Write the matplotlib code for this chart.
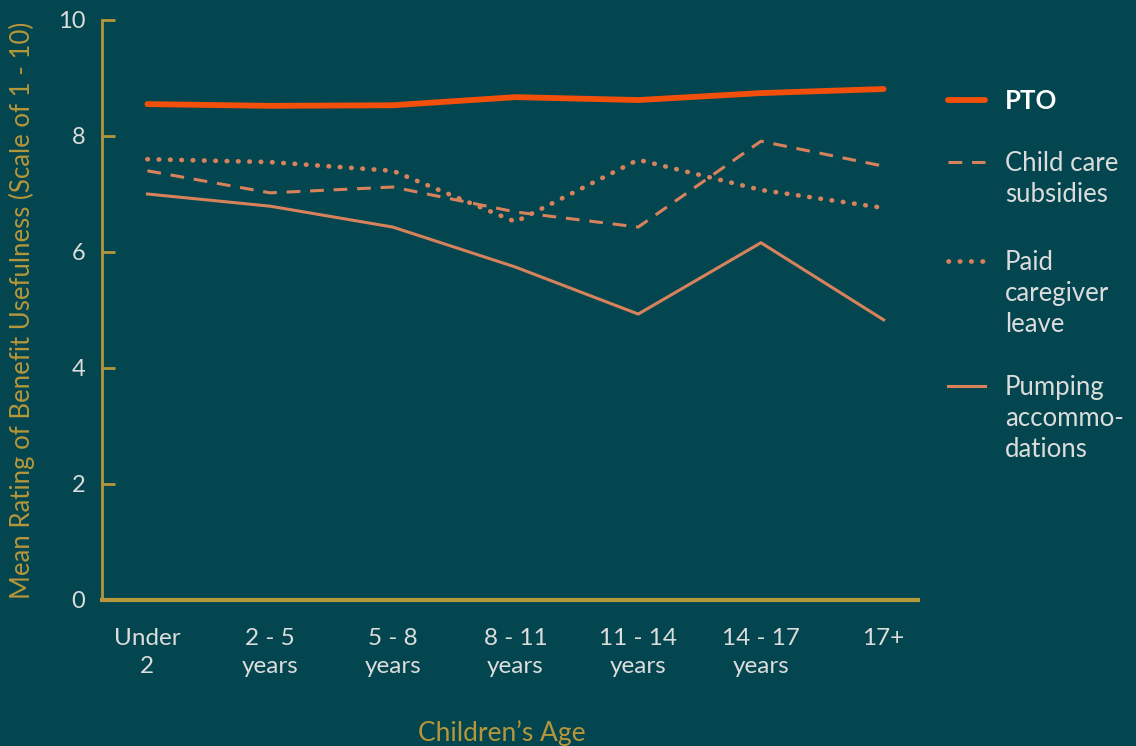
import matplotlib
matplotlib.use("Agg")
import matplotlib.pyplot as plt
from matplotlib.lines import Line2D

# data
ages = ["Under\n2", "2 - 5\nyears", "5 - 8\nyears", "8 - 11\nyears",
        "11 - 14\nyears", "14 - 17\nyears", "17+"]
pto = [8.55, 8.52, 8.53, 8.67, 8.62, 8.74, 8.81]
child_care = [7.40, 7.02, 7.12, 6.69, 6.43, 7.91, 7.48]
caregiver = [7.60, 7.55, 7.40, 6.52, 7.59, 7.07, 6.76]
pumping = [7.00, 6.79, 6.43, 5.74, 4.93, 6.16, 4.83]

BG = "#03464f"
GOLD = "#b5963a"
TXT = "#dcdcdc"
ORANGE = "#f24f0a"
SALMON = "#d8825c"

plt.rcParams["font.family"] = ["Lato", "DejaVu Sans"]

fig = plt.figure(figsize=(11.36, 7.46), dpi=100, facecolor=BG)
ax = fig.add_axes([102/1136, 146/746, 816/1136, 580/746], facecolor=BG)

x = list(range(len(ages)))
series = [
    ("PTO", pto, dict(color=ORANGE, lw=4.2, ls="-", solid_capstyle="round")),
    ("Child care\nsubsidies", child_care, dict(color=SALMON, lw=2.2, ls=(0, (4.5, 3.2)))),
    ("Paid\ncaregiver\nleave", caregiver, dict(color=SALMON, lw=3.4, ls=(0, (0.1, 2.3)), dash_capstyle="round")),
    ("Pumping\naccommo-\ndations", pumping, dict(color=SALMON, lw=2.2, ls="-")),
]
for name, vals, st in series:
    ax.plot(x, vals, **st)

ax.set_xlim(-0.37, 6.28)
ax.set_ylim(0, 10)
ax.set_yticks([0, 2, 4, 6, 8, 10])
ax.set_xticks(x)
ax.set_xticklabels(ages, fontsize=17.5, color=TXT, linespacing=1.45)
for lab in ax.get_yticklabels():
    lab.set_fontsize(17)
    lab.set_color(TXT)

ax.tick_params(axis="y", direction="in", length=9, width=2, color=GOLD, pad=12)
ax.tick_params(axis="x", length=0, pad=20)
for s in ["top", "right"]:
    ax.spines[s].set_visible(False)
ax.spines["left"].set_color(GOLD)
ax.spines["left"].set_linewidth(2)
ax.spines["bottom"].set_color(GOLD)
ax.spines["bottom"].set_linewidth(3)

fig.text(22/1136, 1 - 310/746, "Mean Rating of Benefit Usefulness (Scale of 1 - 10)",
         rotation=90, ha="center", va="center", fontsize=18.5, color=GOLD)
fig.text(502/1136, 1 - 733/746, "Children\u2019s Age",
         ha="center", va="center", fontsize=19, color=GOLD)

# legend on the right, handle aligned with first text line
leg_y = [100, 162, 261, 386]
for (name, vals, st), y in zip(series, leg_y):
    yf = 1 - y/746
    fig.add_artist(Line2D([948/1136, 985/1136], [yf, yf], transform=fig.transFigure, **st))
    fig.text(1005/1136, yf + 11/746, name, ha="left", va="top", fontsize=18.5,
             color="white" if name == "PTO" else TXT,
             fontweight="bold" if name == "PTO" else "normal", linespacing=1.3)

fig.savefig("out.png", dpi=100, facecolor=BG)
